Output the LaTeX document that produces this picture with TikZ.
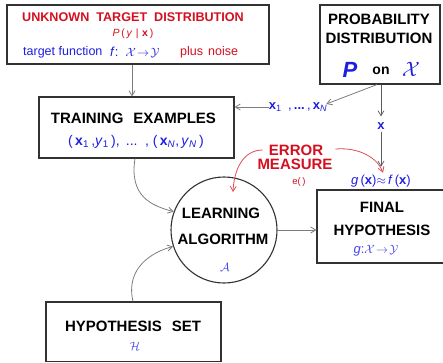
\documentclass[tikz,border=0pt]{standalone}
\usepackage{fontspec}
\setmainfont{Liberation Sans}
\usetikzlibrary{arrows.meta}
\definecolor{tred}{RGB}{212,16,32}
\definecolor{tblue}{RGB}{30,30,225}
\definecolor{lblue}{RGB}{70,70,235}
\definecolor{lgray}{RGB}{125,125,125}
\definecolor{bdr}{RGB}{50,50,50}
\begin{document}
\begin{tikzpicture}[x=1pt,y=-1pt,
  box/.style={draw=bdr,line width=1.1pt,fill=white,inner sep=0pt},
  conn/.style={draw=lgray,line width=0.8pt,-{Straight Barb[length=5pt,width=6pt]}},
  dconn/.style={draw=bdr!80,line width=0.7pt,-{Straight Barb[length=5pt,width=6pt]}},
  rconn/.style={draw=tred!75,line width=0.8pt,-{Straight Barb[length=5pt,width=6pt]}},
  big/.style={font=\fontsize{15}{16}\selectfont\bfseries,inner sep=0pt},
  mid/.style={font=\fontsize{13}{14}\selectfont,inner sep=0pt},
  small/.style={font=\fontsize{10.5}{11}\selectfont,inner sep=0pt}]
\useasboundingbox (0,0) rectangle (443,362);
% boxes
\node[box,minimum width=262pt,minimum height=59pt] (utd) at (138,34.5) {};
\node[box,minimum width=120pt,minimum height=79pt] (prob) at (380,44.5) {};
\node[box,minimum width=195pt,minimum height=61pt] (train) at (136.5,127.5) {};
\node[box,minimum width=129pt,minimum height=73pt] (final) at (381.5,226.5) {};
\node[box,minimum width=175pt,minimum height=59.5pt] (hset) at (133.5,331.75) {};
\node[draw=bdr,line width=1.1pt,circle,minimum size=106pt,inner sep=0pt,fill=white] (alg) at (224,230) {};
% texts: unknown target
\node[tred,inner sep=0pt,font=\fontsize{12.6}{14}\selectfont\bfseries] (t1) at (133,17) {UNKNOWN\hspace{7pt}TARGET\hspace{7pt}DISTRIBUTION};
\node[small,tred] (t2) at (133,34) {\textit{P}\,(\,\textit{y}\,\,|\,\,\textbf{x}\,)};
\node[mid,tblue,anchor=west,font=\fontsize{12.5}{14}\selectfont] (t3) at (23,52) {target function};
\node[mid,tblue,anchor=west] (t4) at (110,52) {\textit{f}:\, $\mathcal{X}\!\rightarrow\!\mathcal{Y}$};
\node[mid,tred,anchor=west,font=\fontsize{12.5}{14}\selectfont] (t5) at (180,52) {plus\hspace{5pt}noise};
% probability
\node[big] (p1) at (379,19) {PROBABILITY};
\node[big] (p2) at (379,38) {DISTRIBUTION};
\node[inner sep=0pt,tblue,font=\fontsize{22}{24}\selectfont\bfseries\itshape] (p3) at (350,70) {P};
\node[big,font=\fontsize{14}{14}\selectfont\bfseries] (p4) at (381,71) {on};
\node[inner sep=0pt,tblue,font=\fontsize{21}{22}\selectfont] (p5) at (411,69) {$\mathcal{X}$};
% training
\node[big] (tr1) at (133.5,118) {TRAINING\hspace{10pt}EXAMPLES};
\node[mid,tblue,font=\fontsize{14}{15}\selectfont] (tr2) at (136,142) {(\,\textbf{x}\textsubscript{1}\,,\textit{y}\textsubscript{1}\,), \,... \,, (\,\textbf{x}\textsubscript{\textit{N}},\,\textit{y}\textsubscript{\textit{N}}\,)};
% sample labels
\node[mid,tblue] (xs) at (298,107) {\textbf{x}\textsubscript{1}\,\,\,,\,\textbf{...}\,,\,\textbf{x}\textsubscript{\textit{N}}};
\node[mid,tblue] (x) at (381,126) {\textbf{x}};
\node[mid,tblue] (gfx) at (381,181) {\textit{g}\,(\textbf{x})$\approx$\,\textit{f}\,(\textbf{x})};
% error measure
\node[big,tred] (e1) at (296,150) {ERROR};
\node[big,tred] (e2) at (295,164) {MEASURE};
\node[small,tred,font=\fontsize{9.5}{10}\selectfont] (e3) at (299,182) {e(\,)};
% algorithm
\node[big] (a1) at (221,213) {LEARNING};
\node[big] (a2) at (223,239) {ALGORITHM};
\node[inner sep=0pt,lblue,font=\fontsize{12}{12}\selectfont] (a3) at (225,267) {$\mathcal{A}$};
% final
\node[big] (f1) at (382,207) {FINAL};
\node[big] (f2) at (382,230) {HYPOTHESIS};
\node[mid,lblue] (f3) at (376,251) {\textit{g}:$\mathcal{X}\!\rightarrow\!\mathcal{Y}$};
% hypothesis set
\node[big] (h1) at (133,326) {HYPOTHESIS\hspace{10pt}SET};
\node[inner sep=0pt,lblue,font=\fontsize{12}{12}\selectfont] (h2) at (135,346) {$\mathcal{H}$};
% connectors
\draw[conn] ([xshift=-6]utd.south) -- ([xshift=-4.5]train.north);
\coordinate (pb) at ([xshift=-3]prob.south);
\draw[conn] (pb) -- ([xshift=-1,yshift=3]xs.east);
\draw[conn] (xs.west) -- (train.east |- xs.west);
\draw[dconn] ([xshift=1]prob.south) -- ([yshift=6]x.north);
\draw[dconn] ([yshift=-2]x.south) -- ([yshift=8]gfx.north);
\draw[conn] (alg.east) -- (final.west |- alg.east);
\draw[conn] ([xshift=-1.5]train.south) .. controls +(-6,38) and +(-22,-6) .. (alg.160);
\draw[conn] ([xshift=-0.5]hset.north) .. controls +(-8,-34) and +(-20,5) .. (alg.198);
\coordinate (ea) at (233,192);
\draw[rconn] ([xshift=-6]e1.west) .. controls +(-20,0) and +(1,-22) .. (ea);
\draw[rconn] ([xshift=12,yshift=1]e1.east) .. controls +(25,-2) and +(-5,-14) .. ([xshift=2,yshift=2]gfx.north);
\end{tikzpicture}
\end{document}
